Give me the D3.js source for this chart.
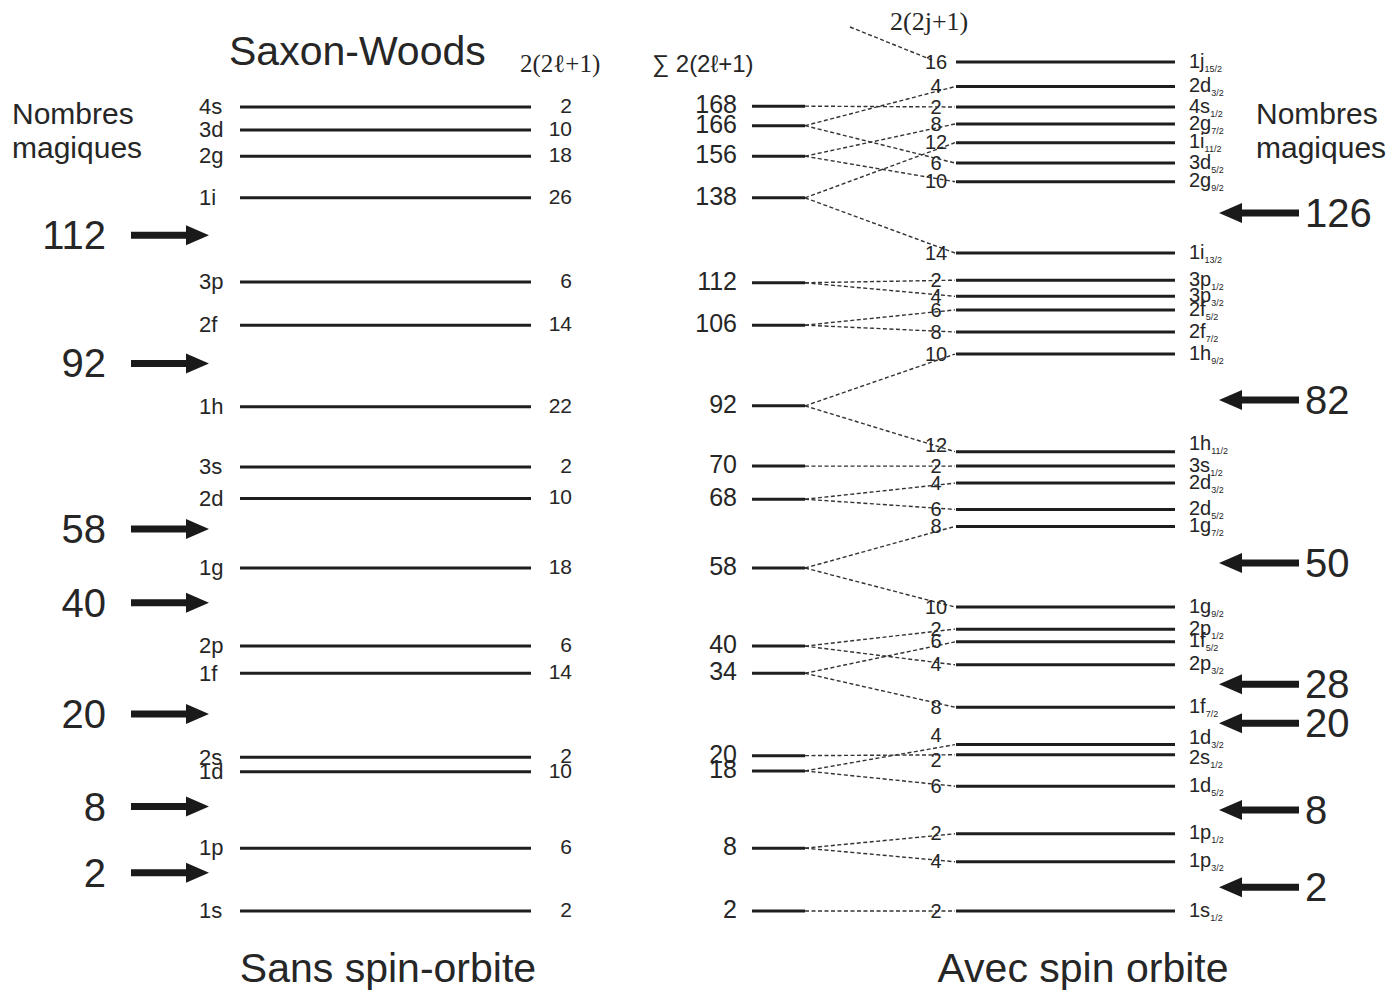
<!DOCTYPE html>
<html>
<head>
<meta charset="utf-8">
<script src="https://cdnjs.cloudflare.com/ajax/libs/d3/7.8.5/d3.min.js"></script>
<style>
    body { margin: 0; background: #fff; }
    svg { display: block; font-family: "Liberation Sans", Arial, sans-serif; }
</style>
</head>
<body>
<div id="chart"></div>
<script>
// Saxon-Woods levels, without spin-orbit (energy in arbitrary units, bottom = 0)
var swNames = ["1s", "1p", "1d", "2s", "1f", "2p", "1g", "2d", "3s", "1h", "2f", "3p", "1i", "2g", "3d", "4s"];
var swEnergy = [0, 7.4, 16.4, 18.1, 28.0, 31.2, 40.4, 48.6, 52.3, 59.4, 69.0, 74.1, 84.0, 88.9, 92.0, 94.7];
var swDegen = [2, 6, 10, 2, 14, 6, 18, 10, 2, 22, 14, 6, 26, 18, 10, 2];

// cumulative sums (middle column)
var sumValues = [2, 8, 18, 20, 34, 40, 58, 68, 70, 92, 106, 112, 138, 156, 166, 168];
var sumEnergy = [0, 7.4, 16.5, 18.3, 28.0, 31.2, 40.4, 48.5, 52.4, 59.5, 69.0, 74.0, 84.0, 88.9, 92.5, 94.8];

// levels with spin-orbit
var soOrbit = ["1s", "1p", "1p", "1d", "2s", "1d", "1f", "2p", "1f", "2p", "1g", "1g", "2d", "2d", "3s",
    "1h", "1h", "2f", "2f", "3p", "3p", "1i", "2g", "3d", "1i", "2g", "4s", "2d", "1j"];
var soJ = ["1/2", "3/2", "1/2", "5/2", "1/2", "3/2", "7/2", "3/2", "5/2", "1/2", "9/2", "7/2", "5/2", "3/2", "1/2",
    "11/2", "9/2", "7/2", "5/2", "3/2", "1/2", "13/2", "9/2", "5/2", "11/2", "7/2", "1/2", "3/2", "15/2"];
var soDegen = [2, 4, 2, 6, 2, 4, 8, 4, 6, 2, 10, 8, 6, 4, 2, 12, 10, 8, 6, 4, 2, 14, 10, 6, 12, 8, 2, 4, 16];
var soEnergy = [0, 5.8, 9.1, 14.7, 18.4, 19.6, 24.0, 29.0, 31.7, 33.2, 35.8, 45.3, 47.3, 50.4, 52.4,
    54.1, 65.6, 68.2, 70.8, 72.4, 74.3, 77.5, 85.9, 88.1, 90.5, 92.7, 94.7, 97.1, 100];
var soParent = ["1s", "1p", "1p", "1d", "2s", "1d", "1f", "2p", "1f", "2p", "1g", "1g", "2d", "2d", "3s",
    "1h", "1h", "2f", "2f", "3p", "3p", "1i", "2g", "3d", "1i", "2g", "4s", "3d", null];

// magic numbers
var magicLeft = [2, 8, 20, 40, 58, 92, 112];
var magicLeftE = [4.5, 12.3, 23.2, 36.3, 45.0, 64.5, 79.6];
var magicRight = [2, 8, 20, 28, 50, 82, 126];
var magicRightE = [2.8, 11.9, 22.1, 26.7, 41.0, 60.2, 82.2];

var width = 1392, height = 993;
var ink = "#1e1e1e";
var txt = "#262626";

var svg = d3.select("#chart")
    .append("svg")
    .attr("width", width)
    .attr("height", height);

var y = d3.scaleLinear().domain([0, 100]).range([911, 62]);

// ---- left column : Saxon-Woods
var sw = swNames.map((n, i) => ({ name: n, e: swEnergy[i], deg: swDegen[i] }));

svg.selectAll(".sw-line")
    .data(sw)
    .enter()
    .append("line")
    .attr("class", "sw-line")
    .attr("x1", 240).attr("x2", 531)
    .attr("y1", (d) => y(d.e)).attr("y2", (d) => y(d.e))
    .attr("stroke", ink).attr("stroke-width", 3);

svg.selectAll(".sw-name")
    .data(sw)
    .enter()
    .append("text")
    .attr("class", "sw-name")
    .attr("x", 199)
    .attr("y", (d) => y(d.e))
    .attr("dy", "0.33em")
    .style("font-size", "22px")
    .style("fill", txt)
    .text((d) => d.name);

svg.selectAll(".sw-deg")
    .data(sw)
    .enter()
    .append("text")
    .attr("class", "sw-deg")
    .attr("x", 572)
    .attr("y", (d) => y(d.e))
    .attr("dy", "0.28em")
    .attr("text-anchor", "end")
    .style("font-size", "21px")
    .style("fill", txt)
    .text((d) => d.deg);

// ---- middle column : cumulative sums
var sums = sumValues.map((v, i) => ({ v: v, e: sumEnergy[i], name: swNames[i] }));

svg.selectAll(".sum-line")
    .data(sums)
    .enter()
    .append("line")
    .attr("class", "sum-line")
    .attr("x1", 752).attr("x2", 805)
    .attr("y1", (d) => y(d.e)).attr("y2", (d) => y(d.e))
    .attr("stroke", ink).attr("stroke-width", 3);

svg.selectAll(".sum-val")
    .data(sums)
    .enter()
    .append("text")
    .attr("class", "sum-val")
    .attr("x", 737)
    .attr("y", (d) => y(d.e))
    .attr("dy", "0.28em")
    .attr("text-anchor", "end")
    .style("font-size", "25px")
    .style("fill", txt)
    .text((d) => d.v);

// ---- right column : spin-orbit split levels
var so = soOrbit.map((o, i) => ({ orbit: o, j: soJ[i], deg: soDegen[i], e: soEnergy[i], parent: soParent[i] }));

// small text offsets where labels crowd
var nudge = { "1h11/2": -7, "1d3/2": -6, "2s1/2": 4 };
var degNudge = { "1h11/2": -6, "1d3/2": -9, "2s1/2": 6 };

svg.selectAll(".split")
    .data(so.filter((d) => d.parent))
    .enter()
    .append("line")
    .attr("class", "split")
    .attr("x1", 805)
    .attr("y1", (d) => y(sumEnergy[swNames.indexOf(d.parent)]))
    .attr("x2", 955)
    .attr("y2", (d) => y(d.e))
    .attr("stroke", "#333").attr("stroke-width", 1.4)
    .attr("stroke-dasharray", "4,2.5");

// pointer from the 2(2j+1) heading
svg.append("line")
    .attr("x1", 850).attr("y1", 27)
    .attr("x2", 932).attr("y2", y(100) - 2)
    .attr("stroke", "#333").attr("stroke-width", 1.4)
    .attr("stroke-dasharray", "4,2.5");

svg.selectAll(".so-line")
    .data(so)
    .enter()
    .append("line")
    .attr("class", "so-line")
    .attr("x1", 956).attr("x2", 1175)
    .attr("y1", (d) => y(d.e)).attr("y2", (d) => y(d.e))
    .attr("stroke", ink).attr("stroke-width", 3);

svg.selectAll(".so-deg")
    .data(so)
    .enter()
    .append("text")
    .attr("class", "so-deg")
    .attr("x", 936)
    .attr("y", (d) => y(d.e) + (degNudge[d.orbit + d.j] || 0))
    .attr("dy", "0.33em")
    .attr("text-anchor", "middle")
    .style("font-size", "20px")
    .style("fill", txt)
    .text((d) => d.deg);

var soLabel = svg.selectAll(".so-name")
    .data(so)
    .enter()
    .append("text")
    .attr("class", "so-name")
    .attr("x", 1189)
    .attr("y", (d) => y(d.e) + (nudge[d.orbit + d.j] || 0))
    .attr("dy", "0.28em")
    .style("font-size", "20px")
    .style("fill", txt);
soLabel.append("tspan").text((d) => d.orbit);
soLabel.append("tspan")
    .attr("dy", 4)
    .style("font-size", "9px")
    .text((d) => d.j);

// ---- magic number arrows
function arrow(x0, x1, yy) {
    var dir = x1 > x0 ? 1 : -1;
    var hl = 23, hh = 10, sh = 3.5;
    var xb = x1 - dir * hl;
    var p = d3.path();
    p.moveTo(x0, yy - sh);
    p.lineTo(xb, yy - sh);
    p.lineTo(xb, yy - hh);
    p.lineTo(x1, yy);
    p.lineTo(xb, yy + hh);
    p.lineTo(xb, yy + sh);
    p.lineTo(x0, yy + sh);
    p.closePath();
    return p.toString();
}

var mLeft = magicLeft.map((m, i) => ({ m: m, e: magicLeftE[i] }));
var mRight = magicRight.map((m, i) => ({ m: m, e: magicRightE[i] }));

svg.selectAll(".arrow-l")
    .data(mLeft)
    .enter()
    .append("path")
    .attr("class", "arrow-l")
    .attr("d", (d) => arrow(131, 209, y(d.e)))
    .attr("fill", "#1a1a1a");

svg.selectAll(".magic-l")
    .data(mLeft)
    .enter()
    .append("text")
    .attr("class", "magic-l")
    .attr("x", 106)
    .attr("y", (d) => y(d.e))
    .attr("dy", "0.35em")
    .attr("text-anchor", "end")
    .style("font-size", "40px")
    .style("fill", txt)
    .text((d) => d.m);

svg.selectAll(".arrow-r")
    .data(mRight)
    .enter()
    .append("path")
    .attr("class", "arrow-r")
    .attr("d", (d) => arrow(1299, 1219, y(d.e)))
    .attr("fill", "#1a1a1a");

svg.selectAll(".magic-r")
    .data(mRight)
    .enter()
    .append("text")
    .attr("class", "magic-r")
    .attr("x", 1305)
    .attr("y", (d) => y(d.e))
    .attr("dy", "0.35em")
    .style("font-size", "40px")
    .style("fill", txt)
    .text((d) => d.m);

// ---- headings
svg.append("text")
    .text("Saxon-Woods")
    .attr("x", 229).attr("y", 65)
    .style("font-size", "41px")
    .style("fill", txt);

svg.append("text")
    .text("2(2\u2113+1)")
    .attr("x", 520).attr("y", 72)
    .style("font-family", "'Liberation Serif', 'DejaVu Serif', serif")
    .style("font-size", "25px")
    .style("fill", txt);

svg.append("text")
    .text("\u2211 2(2\u2113+1)")
    .attr("x", 652).attr("y", 72)
    .style("font-size", "24px")
    .style("fill", txt);

svg.append("text")
    .text("2(2j+1)")
    .attr("x", 890).attr("y", 30)
    .style("font-family", "'Liberation Serif', serif")
    .style("font-size", "26px")
    .style("fill", txt);

[12, 1256].forEach(function (x) {
    svg.append("text").text("Nombres")
        .attr("x", x).attr("y", 124)
        .style("font-size", "30px").style("fill", txt);
    svg.append("text").text("magiques")
        .attr("x", x).attr("y", 158)
        .style("font-size", "30px").style("fill", txt);
});

svg.append("text")
    .text("Sans spin-orbite")
    .attr("x", 388).attr("y", 982)
    .attr("text-anchor", "middle")
    .style("font-size", "41px")
    .style("fill", txt);

svg.append("text")
    .text("Avec spin orbite")
    .attr("x", 1083).attr("y", 982)
    .attr("text-anchor", "middle")
    .style("font-size", "41px")
    .style("fill", txt);
</script>
</body>
</html>
